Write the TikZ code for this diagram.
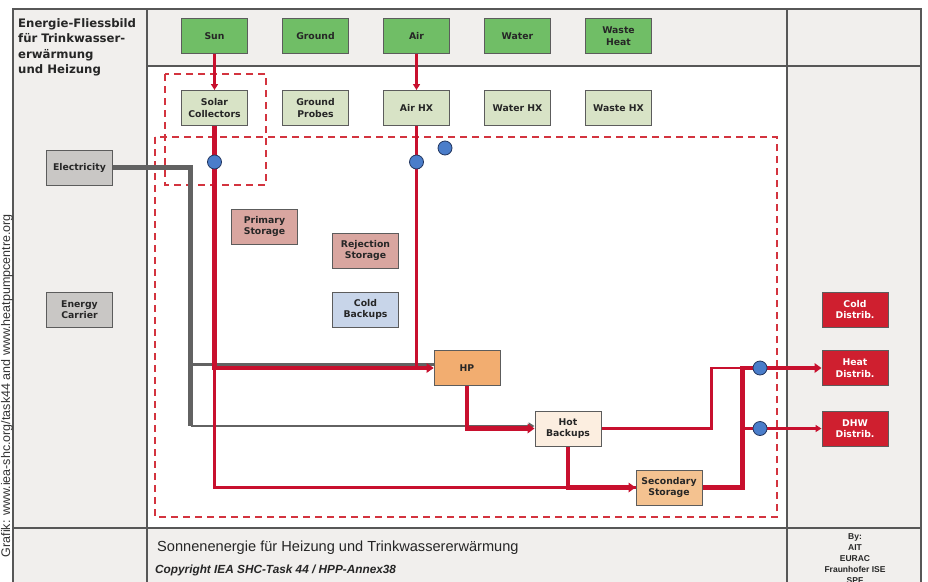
\documentclass[tikz,border=0pt]{standalone}
\usepackage{fontspec}
\setmainfont{DejaVu Sans}
\newfontfamily\arialfont{Liberation Sans}
\usetikzlibrary{arrows.meta,positioning}
\definecolor{panel-gray}{HTML}{F1EFED}
\definecolor{frame-gray}{HTML}{575757}
\definecolor{box-edge}{HTML}{5C5C5C}
\definecolor{box-text}{HTML}{262626}
\definecolor{source-green}{HTML}{70BE66}
\definecolor{hx-green}{HTML}{D8E3C6}
\definecolor{carrier-gray}{HTML}{C9C7C5}
\definecolor{store-pink}{HTML}{D9A6A0}
\definecolor{cold-blue}{HTML}{C8D5E9}
\definecolor{hp-orange}{HTML}{F2AD70}
\definecolor{backup-cream}{HTML}{FCEEE0}
\definecolor{secondary-orange}{HTML}{F4C290}
\definecolor{distrib-red}{HTML}{CF1F2F}
\definecolor{pipe-red}{HTML}{C8102E}
\definecolor{power-gray}{HTML}{626262}
\definecolor{group-red}{HTML}{D3343F}
\definecolor{pump-blue}{HTML}{4A7DCA}
\definecolor{pump-edge}{HTML}{22355E}
\definecolor{credit-gray}{HTML}{333333}
\tikzset{
    block/.style = {draw=box-edge, line width=1pt, rectangle, minimum width=66pt, minimum height=35pt, inner sep=1pt, align=center, text=box-text, font=\fontsize{9.3}{11.5}\selectfont\bfseries},
    source-box/.style = {block, fill=source-green},
    hx-box/.style = {block, fill=hx-green},
    carrier-box/.style = {block, fill=carrier-gray},
    store-box/.style = {block, fill=store-pink},
    cold-box/.style = {block, fill=cold-blue},
    hp-box/.style = {block, fill=hp-orange},
    backup-box/.style = {block, fill=backup-cream},
    secondary-box/.style = {block, fill=secondary-orange},
    distrib-box/.style = {block, fill=distrib-red, text=white},
    pump/.style = {circle, draw=pump-edge, fill=pump-blue, line width=0.8pt, minimum size=14pt, inner sep=0pt},
    frame-line/.style = {draw=frame-gray, line width=1.2pt},
    group-frame/.style = {draw=group-red, line width=1.3pt, dash pattern=on 7pt off 5pt},
    flow-line/.style = {draw=pipe-red, line width=2.6pt},
    heavy-line/.style = {draw=pipe-red, line width=4.8pt},
    power-line/.style = {draw=power-gray, line width=4.8pt},
    power-branch/.style = {draw=power-gray, line width=2.8pt},
    thin-tip/.style = {-{Triangle[length=6pt,width=7pt]}},
    heavy-tip/.style = {-{Triangle[length=7pt,width=9.5pt]}},
}

\begin{document}
\begin{tikzpicture}[x=1pt, y=-1pt]
\clip (0,0) rectangle (928,581);
% sheet and grid
\fill[panel-gray] (13,9) rectangle (921,595);
\fill[white] (147,66) rectangle (787,528);
\draw[frame-line] (13,9) rectangle (921,595);
\draw[frame-line] (147,9) -- (147,595) (787,9) -- (787,595) (147,66) -- (921,66) (13,528) -- (921,528);

% system boundaries
\draw[group-frame] (155,137) rectangle (777,517);
\draw[group-frame] (165,74) rectangle (266,185);

% sources
\node[source-box] (sun) at (214.5,36) {Sun};
\node[source-box] (ground) at (315.5,36) {Ground};
\node[source-box] (air) at (416.5,36) {Air};
\node[source-box] (water) at (517.5,36) {Water};
\node[source-box] (waste) at (618.5,36) {Waste\\Heat};

% heat exchangers
\node[hx-box] (solar) at (214.5,108) {Solar\\Collectors};
\node[hx-box] (probes) at (315.5,108) {Ground\\Probes};
\node[hx-box] (airhx) at (416.5,108) {Air HX};
\node[hx-box] (waterhx) at (517.5,108) {Water HX};
\node[hx-box] (wastehx) at (618.5,108) {Waste HX};

% carriers
\node[carrier-box] (elec) at (79.5,167.5) {Electricity};
\node[carrier-box] (carrier) at (79.5,309.5) {Energy\\Carrier};

% storages and generators
\node[store-box] (primary) at (264.5,226.5) {Primary\\Storage};
\node[store-box] (rejection) at (365.5,250.5) {Rejection\\Storage};
\node[cold-box] (coldbk) at (365.5,309.5) {Cold\\Backups};
\node[hp-box] (hp) at (467,368) {HP};
\node[backup-box] (hotbk) at (568,428.5) {Hot\\Backups};
\node[secondary-box] (secst) at (669,487.5) {Secondary\\Storage};

% distribution
\node[distrib-box] (colddist) at (855,309.5) {Cold\\Distrib.};
\node[distrib-box] (heatdist) at (855,368) {Heat\\Distrib.};
\node[distrib-box] (dhwdist) at (855,428.5) {DHW\\Distrib.};

% electricity
\coordinate (edrop) at (190.5,426);
\coordinate (ehp) at (190.5,364.5);
\draw[power-line] (elec) -| (edrop);
\draw[power-branch, thin-tip] (edrop) -- (edrop -| hotbk.west);
\draw[power-branch] (ehp) -- (ehp -| hp.west);

% heat flows
\draw[flow-line, thin-tip] (sun) -- (solar);
\draw[flow-line, thin-tip] (air) -- (airhx);
\draw[flow-line] (solar) |- (secst.west);
\draw[heavy-line, heavy-tip] (solar) |- (hp.west);
\draw[flow-line, thin-tip] (airhx) |- (hp.west);
\draw[heavy-line, heavy-tip] (hp) |- (hotbk.west);
\draw[heavy-line, heavy-tip] (hotbk) |- (secst.west);
\coordinate (hotup) at (711.5,368);
\coordinate (riser) at (742.5,368);
\draw[flow-line] (hotbk) -| (hotup) -- (riser);
\draw[heavy-line, heavy-tip] (secst) -| (riser) -- (heatdist);
\draw[flow-line, thin-tip] (riser |- dhwdist) -- (dhwdist);

% pumps
\node[pump] (pump-solar) at (214.5,162) {};
\node[pump] (pump-air) at (416.5,162) {};
\node[pump] (pump-extra) at (445,148) {};
\node[pump] (pump-heat) at (760,368) {};
\node[pump] (pump-dhw) at (760,428.5) {};

% texts
\node[anchor=north west, align=left, inner sep=0pt, text=box-text, font=\fontsize{11.7}{15.5}\selectfont\bfseries] (title) at (18,18) {Energie-Fliessbild\\für Trinkwasser-\\erwärmung\\und Heizung};
\node[anchor=west, inner sep=0pt, text=box-text, font=\arialfont\fontsize{14.6}{16}\selectfont] (subject) at (157,548) {Sonnenenergie für Heizung und Trinkwassererwärmung};
\node[anchor=west, inner sep=0pt, text=box-text, font=\arialfont\fontsize{11.8}{14}\selectfont\bfseries\itshape] (copyright) at (155,570) {Copyright IEA SHC-Task 44 / HPP-Annex38};
\node[anchor=north, align=center, inner sep=0pt, text=box-text, font=\arialfont\fontsize{8.5}{11}\selectfont\bfseries] (authors) at (855,533) {By:\\AIT\\EURAC\\Fraunhofer ISE\\SPF};
\node[rotate=90, anchor=base east, inner sep=0pt, text=credit-gray, font=\arialfont\fontsize{12.5}{14}\selectfont] (credit) at (10,214) {Grafik: www.iea-shc.org/task44 and www.heatpumpcentre.org};
\end{tikzpicture}
\end{document}
